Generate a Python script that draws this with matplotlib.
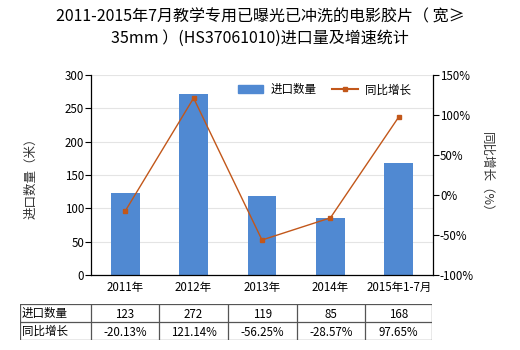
import matplotlib
matplotlib.use("Agg")
import matplotlib.pyplot as plt
from matplotlib.lines import Line2D
from matplotlib.patches import Patch

plt.rcParams['font.family'] = ['Noto Sans CJK SC', 'DejaVu Sans']

categories = ["2011年", "2012年", "2013年", "2014年", "2015年1-7月"]
quantity = [123, 272, 119, 85, 168]
growth = [-20.13, 121.14, -56.25, -28.57, 97.65]
qty_labels = ["123", "272", "119", "85", "168"]
growth_labels = ["-20.13%", "121.14%", "-56.25%", "-28.57%", "97.65%"]
title = "2011-2015年7月教学专用已曝光已冲洗的电影胶片（ 宽≥\n35mm ）(HS37061010)进口量及增速统计"

W, H = 520, 350
fig = plt.figure(figsize=(W / 100, H / 100), dpi=100)

def rect(x0, y0, x1, y1):
    return [x0 / W, 1 - y1 / H, (x1 - x0) / W, (y1 - y0) / H]

bar_c = "#5089d2"
line_c = "#c2571a"
fs = 8.3

ax = fig.add_axes(rect(91, 75, 433, 275))
x = list(range(len(categories)))
ax.bar(x, quantity, width=0.42, color=bar_c, zorder=2)
ax.set_xlim(-0.5, len(categories) - 0.5)
ax.set_ylim(0, 300)
ax.set_yticks(range(0, 301, 50))
ax.grid(axis='y', color='#e4e4e4', linewidth=0.8, zorder=0)
ax.set_xticks(x)
ax.set_xticklabels(categories, fontsize=fs)
ax.tick_params(axis='x', length=0, pad=4)
ax.tick_params(axis='y', labelsize=fs, length=4, width=0.8, direction='out', pad=1)
for s in ['top', 'right']:
    ax.spines[s].set_visible(False)
ax.spines['left'].set_linewidth(0.9)
ax.spines['bottom'].set_linewidth(0.9)
ax.set_ylabel("进口数量（米）", fontsize=9, labelpad=20, color='#333333')

ax2 = ax.twinx()
ax2.plot(x, growth, color=line_c, linewidth=1.0, marker='s', markersize=3.5, zorder=3)
ax2.set_ylim(-100, 150)
ax2.set_yticks(range(-100, 151, 50))
ax2.set_yticklabels([f"{v}%" for v in range(-100, 151, 50)])
ax2.tick_params(axis='y', labelsize=fs, length=4, width=0.8, direction='out', pad=1)
for s in ['top', 'left', 'bottom']:
    ax2.spines[s].set_visible(False)
ax2.spines['right'].set_linewidth(0.9)
ax2.set_ylabel("同比增长（%）", fontsize=9, rotation=270, labelpad=14, color='#333333')

handles = [Patch(color=bar_c, label="进口数量"),
           Line2D([0], [0], color=line_c, marker='s', markersize=3.5, linewidth=1.5, label="同比增长")]
ax2.legend(handles=handles, loc='upper right', bbox_to_anchor=(0.965, 1.01), ncol=2,
           frameon=False, fontsize=fs, handlelength=2.2, columnspacing=1.4, handletextpad=0.6)

fig.text(0.5, 1 - 28 / H, title, ha='center', va='center', fontsize=11.5, linespacing=1.35)

# data table
tx = fig.add_axes(rect(20, 304, 432, 340))
tx.set_xlim(20, 432)
tx.set_ylim(340, 304)
tx.axis('off')
cols = [20, 90.7, 159, 228, 297, 365, 432]
rows = [304, 322, 340]
lc = '#555555'
for cx in cols:
    tx.plot([cx, cx], [rows[0], rows[-1]], color=lc, linewidth=0.9)
for ry in rows:
    tx.plot([cols[0], cols[-1]], [ry, ry], color=lc, linewidth=0.9)
row_names = ["进口数量", "同比增长"]
row_vals = [qty_labels, growth_labels]
for r in range(2):
    yc = (rows[r] + rows[r + 1]) / 2
    tx.text(cols[0] + 2, yc, row_names[r], ha='left', va='center', fontsize=fs)
    for c in range(len(categories)):
        xc = (cols[c + 1] + cols[c + 2]) / 2
        tx.text(xc, yc + 1, row_vals[r][c], ha='center', va='center', fontsize=fs)

fig.savefig("out.png", dpi=100)
